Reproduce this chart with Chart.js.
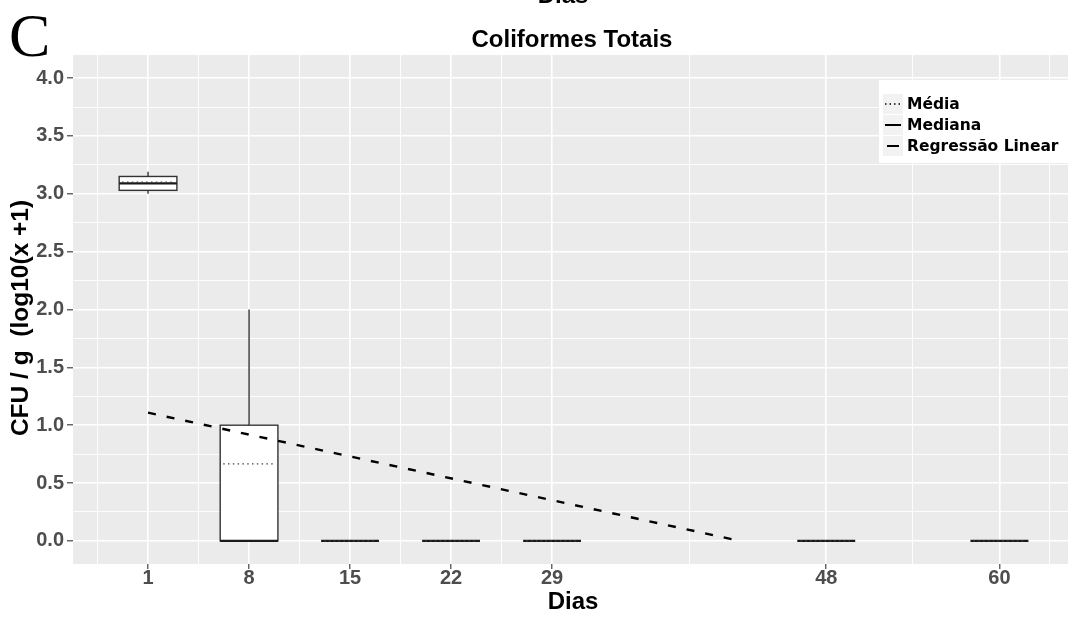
<!DOCTYPE html>
<html>
<head>
<meta charset="utf-8">
<script src="https://cdn.jsdelivr.net/npm/chart.js@4.4.1/dist/chart.umd.min.js"></script>
<style>
  html, body { margin: 0; padding: 0; background: #ffffff; }
  #wrap { width: 1068px; height: 619px; position: relative; }
</style>
</head>
<body>
<div id="wrap"><canvas id="grafico" width="1068" height="619"></canvas></div>
<script>
// Coliformes totais (CFU/g, log10(x+1)) por dia de amostragem
const dias = [1, 8, 15, 22, 29, 48, 60];
const limiteInferior = [3.00, 0, 0, 0, 0, 0, 0];
const quartil1 = [3.03, 0, 0, 0, 0, 0, 0];
const mediana = [3.09, 0, 0, 0, 0, 0, 0];
const media = [3.10, 0.665, 0, 0, 0, 0, 0];
const quartil3 = [3.15, 1.00, 0, 0, 0, 0, 0];
const limiteSuperior = [3.19, 2.00, 0, 0, 0, 0, 0];

// Reta de regressão linear (extremos)
const regressaoDias = [1, 42];
const regressaoValores = [1.108, 0.0];

// Marcas dos eixos
const xTicks = dias;
const xMinor = [-2.5, 4.5, 11.5, 18.5, 25.5, 38.5, 54, 63.5];
const yTicks = [0, 0.5, 1, 1.5, 2, 2.5, 3, 3.5, 4];
const yMinor = [0.25, 0.75, 1.25, 1.75, 2.25, 2.75, 3.25, 3.75];

const legendaItens = ['Média', 'Mediana', 'Regressão Linear'];

const SANS = '"Liberation Sans", Arial, sans-serif';
const BOX_HALF = 2; // meia largura da caixa, em dias

const fundoPainel = {
  id: 'fundoPainel',
  beforeDraw(chart) {
    const { ctx, chartArea: a } = chart;
    ctx.save();
    ctx.fillStyle = '#ebebeb';
    ctx.fillRect(a.left, a.top, a.right - a.left, a.bottom - a.top);
    ctx.restore();
  }
};

const caixas = {
  id: 'caixas',
  beforeDatasetsDraw(chart) {
    const { ctx, scales: { x, y } } = chart;
    ctx.save();
    dias.forEach((d, i) => {
      const x0 = x.getPixelForValue(d - BOX_HALF);
      const x1 = x.getPixelForValue(d + BOX_HALF);
      const xc = x.getPixelForValue(d);
      const yq1 = y.getPixelForValue(quartil1[i]);
      const yq3 = y.getPixelForValue(quartil3[i]);
      const ylo = y.getPixelForValue(limiteInferior[i]);
      const yhi = y.getPixelForValue(limiteSuperior[i]);
      ctx.strokeStyle = '#333333';
      ctx.lineWidth = 1.4;
      ctx.setLineDash([]);
      // bigodes
      ctx.beginPath();
      ctx.moveTo(xc, yq3); ctx.lineTo(xc, yhi);
      ctx.moveTo(xc, yq1); ctx.lineTo(xc, ylo);
      ctx.stroke();
      // caixa
      ctx.fillStyle = '#ffffff';
      ctx.fillRect(x0, yq3, x1 - x0, yq1 - yq3);
      ctx.strokeRect(x0, yq3, x1 - x0, yq1 - yq3);
      // mediana
      const ym = y.getPixelForValue(mediana[i]);
      ctx.strokeStyle = '#1a1a1a';
      ctx.lineWidth = 2.4;
      ctx.beginPath(); ctx.moveTo(x0, ym); ctx.lineTo(x1, ym); ctx.stroke();
      // média
      const ymd = y.getPixelForValue(media[i]);
      ctx.strokeStyle = '#444444';
      ctx.lineWidth = 1.3;
      ctx.setLineDash([1.5, 3.3]);
      ctx.beginPath(); ctx.moveTo(x0 + 3, ymd); ctx.lineTo(x1 - 2, ymd); ctx.stroke();
    });
    ctx.restore();
  }
};

const textos = {
  id: 'textos',
  afterDraw(chart) {
    const { ctx } = chart;
    ctx.save();
    ctx.fillStyle = '#000000';
    // letra do painel
    ctx.font = '62px "Liberation Serif", "Times New Roman", serif';
    ctx.textAlign = 'left';
    ctx.textBaseline = 'alphabetic';
    ctx.fillText('C', 9, 56);
    // título do eixo x do painel anterior (cortado)
    ctx.font = 'bold 24px ' + SANS;
    ctx.textAlign = 'center';
    ctx.fillText('Dias', 563, 3);
    // título
    ctx.fillText('Coliformes Totais', 572, 47);
    // título do eixo x
    ctx.fillText('Dias', 573, 609);
    // título do eixo y
    ctx.save();
    ctx.font = 'bold 24.5px ' + SANS;
    ctx.translate(28, 318);
    ctx.rotate(-Math.PI / 2);
    ctx.textBaseline = 'alphabetic';
    ctx.fillText('CFU / g  (log10(x +1)', 0, 0);
    ctx.restore();

    // legenda
    const lx = 879, ly = 80;
    ctx.fillStyle = '#ffffff';
    ctx.fillRect(lx, ly, 1068 - lx, 83);
    const linhas = [104, 125, 146];
    legendaItens.forEach((txt, i) => {
      const cy = linhas[i];
      ctx.fillStyle = '#f2f2f2';
      ctx.fillRect(883, cy - 10, 20, 20);
      ctx.strokeStyle = '#000000';
      ctx.lineWidth = i === 0 ? 1.4 : 2;
      ctx.setLineDash(i === 0 ? [1.5, 3] : []);
      ctx.beginPath();
      ctx.moveTo(i === 2 ? 887 : 885, cy);
      ctx.lineTo(i === 2 ? 899 : 901, cy);
      ctx.stroke();
      ctx.setLineDash([]);
      ctx.fillStyle = '#000000';
      ctx.font = 'bold 15.5px "DejaVu Sans", Verdana, sans-serif';
      ctx.textAlign = 'left';
      ctx.textBaseline = 'middle';
      ctx.fillText(txt, 907, cy + 1);
    });
    ctx.restore();
  }
};

const ordenar = arr => arr.slice().sort((p, q) => p - q);

new Chart(document.getElementById('grafico'), {
  type: 'line',
  data: {
    datasets: [{
      label: 'Regressão Linear',
      data: regressaoDias.map((d, i) => ({ x: d, y: regressaoValores[i] })),
      borderColor: '#000000',
      borderWidth: 2.4,
      borderDash: [8, 11],
      pointRadius: 0,
      fill: false,
      tension: 0
    }]
  },
  options: {
    responsive: false,
    animation: false,
    devicePixelRatio: 1,
    layout: { padding: { top: 55, left: 0, right: 0, bottom: 0 } },
    plugins: {
      legend: { display: false },
      tooltip: { enabled: false },
      title: { display: false }
    },
    scales: {
      x: {
        type: 'linear',
        min: -4.2,
        max: 64.75,
        afterBuildTicks: s => { s.ticks = ordenar(xTicks.concat(xMinor)).map(v => ({ value: v })); },
        afterFit: s => { s.height = 55; },
        border: { display: false },
        grid: {
          color: '#ffffff',
          lineWidth: c => xTicks.includes(c.tick && c.tick.value) ? 1.6 : 0.9,
          tickLength: 5,
          tickWidth: 1.1,
          tickColor: c => xTicks.includes(c.tick && c.tick.value) ? '#333333' : 'rgba(0,0,0,0)'
        },
        ticks: {
          autoSkip: false,
          maxRotation: 0,
          padding: -3,
          color: '#4d4d4d',
          font: { family: SANS, size: 20, weight: 'bold' },
          callback: v => xTicks.includes(v) ? String(v) : ''
        }
      },
      y: {
        type: 'linear',
        min: -0.2,
        max: 4.2,
        afterBuildTicks: s => { s.ticks = ordenar(yTicks.concat(yMinor)).map(v => ({ value: v })); },
        afterFit: s => { s.width = 73; },
        border: { display: false },
        grid: {
          color: '#ffffff',
          lineWidth: c => yTicks.includes(c.tick && c.tick.value) ? 1.6 : 0.9,
          tickLength: 6,
          tickWidth: 1.1,
          tickColor: c => yTicks.includes(c.tick && c.tick.value) ? '#333333' : 'rgba(0,0,0,0)'
        },
        ticks: {
          autoSkip: false,
          padding: 3,
          color: '#4d4d4d',
          font: { family: SANS, size: 20, weight: 'bold' },
          callback: v => yTicks.includes(v) ? v.toFixed(1) : ''
        }
      }
    }
  },
  plugins: [fundoPainel, caixas, textos]
});
</script>
</body>
</html>
